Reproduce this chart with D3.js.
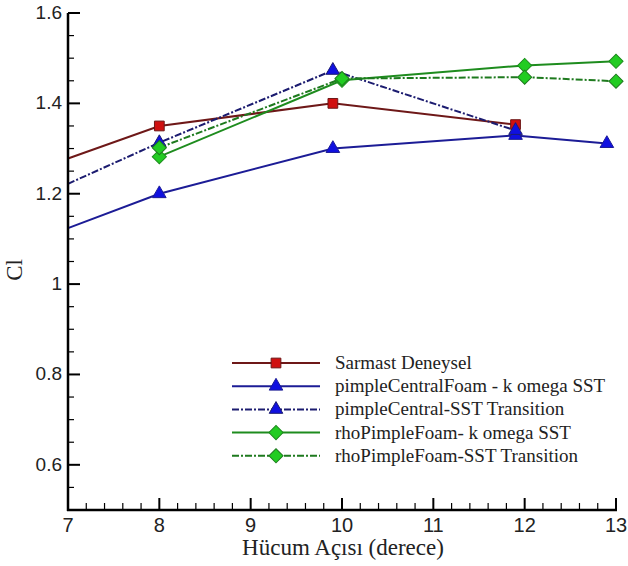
<!DOCTYPE html>
<html>
<head>
<meta charset="utf-8">
<script src="https://cdn.jsdelivr.net/npm/d3@7"></script>
<style>
  body { margin: 0; background: #fff; }
</style>
</head>
<body>
<svg id="chart" width="628" height="566"></svg>
<script>
// Cl - hücum açısı verileri
const seriesNames = [
  "Sarmast Deneysel",
  "pimpleCentralFoam - k omega SST",
  "pimpleCentral-SST Transition",
  "rhoPimpleFoam- k omega SST",
  "rhoPimpleFoam-SST Transition"
];
const sarmastX = [7, 8, 9.9, 11.9];
const sarmastY = [1.278, 1.35, 1.40, 1.353];
const pcfX = [7, 8, 9.9, 11.9, 12.9];
const pcfY = [1.124, 1.20, 1.30, 1.329, 1.311];
const pcTransX = [7, 8, 9.9, 11.9];
const pcTransY = [1.222, 1.313, 1.473, 1.34];
const rpfX = [8, 10, 12, 13];
const rpfY = [1.282, 1.451, 1.484, 1.493];
const rpTransX = [8, 10, 12, 13];
const rpTransY = [1.302, 1.455, 1.458, 1.449];

const xTicks = [7, 8, 9, 10, 11, 12, 13];
const yTicks = [0.6, 0.8, 1, 1.2, 1.4, 1.6];

const svg = d3.select("#chart");
const x = d3.scaleLinear().domain([7, 13]).range([68, 616]);
const y = d3.scaleLinear().domain([0.5, 1.6]).range([510, 13]);

// elmas = 45 derece döndürülmüş kare
const styles = [
  { line: "#6e1818", fill: "#d01010", stroke: "#6e1818", dash: null, sym: d3.symbolSquare, size: 95, rot: 0 },
  { line: "#1c1c96", fill: "#1010e0", stroke: "#1c1c96", dash: null, sym: d3.symbolTriangle, size: 80, rot: 0 },
  { line: "#1c1c70", fill: "#1010e0", stroke: "#1c1c70", dash: "7,2,2,2", sym: d3.symbolTriangle, size: 80, rot: 0 },
  { line: "#1e8c1e", fill: "#22cc22", stroke: "#1e8c1e", dash: null, sym: d3.symbolSquare, size: 100, rot: 45 },
  { line: "#1e7a1e", fill: "#22cc22", stroke: "#1e7a1e", dash: "7,2,2,2", sym: d3.symbolSquare, size: 100, rot: 45 }
];

const allData = [
  d3.zip(sarmastX, sarmastY),
  d3.zip(pcfX, pcfY),
  d3.zip(pcTransX, pcTransY),
  d3.zip(rpfX, rpfY),
  d3.zip(rpTransX, rpTransY)
];

const line = d3.line().x(d => x(d[0])).y(d => y(d[1]));

// çizgiler
allData.forEach((data, i) => {
  const s = styles[i];
  svg.append("path")
    .attr("d", line(data))
    .attr("fill", "none")
    .attr("stroke", s.line)
    .attr("stroke-width", 2)
    .attr("stroke-dasharray", s.dash);
});

// işaretler (eksen üzerindekiler hariç)
allData.forEach((data, i) => {
  const s = styles[i];
  svg.selectAll(null)
    .data(data.filter(d => d[0] > 7))
    .enter().append("path")
    .attr("d", d3.symbol().type(s.sym).size(s.size))
    .attr("transform", d => `translate(${x(d[0])},${y(d[1])}) rotate(${s.rot})`)
    .attr("fill", s.fill)
    .attr("stroke", s.stroke)
    .attr("stroke-width", 1);
});

// eksenler
const axisG = svg.append("g").attr("stroke", "#000");
axisG.append("line").attr("x1", 68).attr("x2", 68).attr("y1", 13).attr("y2", 511).attr("stroke-width", 2.5);
axisG.append("line").attr("x1", 67).attr("x2", 617).attr("y1", 510).attr("y2", 510).attr("stroke-width", 2.5);

// y çentikleri
d3.range(0.55, 1.601, 0.05).forEach(v => {
  const major = Math.abs(v * 5 - Math.round(v * 5)) < 1e-6;
  axisG.append("line")
    .attr("x1", 68).attr("x2", 68 + (major ? 12 : 6))
    .attr("y1", y(v)).attr("y2", y(v))
    .attr("stroke-width", major ? 2 : 1.2);
});
// x çentikleri
d3.range(7.2, 13.001, 0.2).forEach(v => {
  const major = Math.abs(v - Math.round(v)) < 1e-6;
  axisG.append("line")
    .attr("x1", x(v)).attr("x2", x(v))
    .attr("y1", 510).attr("y2", 510 - (major ? 12 : 7))
    .attr("stroke-width", major ? 2 : 1.2);
});

svg.selectAll(".ylab")
  .data(yTicks)
  .enter().append("text")
  .attr("x", 62).attr("y", d => y(d) + 6)
  .attr("text-anchor", "end")
  .attr("font-family", "Liberation Sans, Arial, sans-serif")
  .attr("font-size", 19)
  .attr("fill", "#222")
  .text(d => d3.format("")(d));

svg.selectAll(".xlab")
  .data(xTicks)
  .enter().append("text")
  .attr("x", d => x(d)).attr("y", 532)
  .attr("text-anchor", "middle")
  .attr("font-family", "Liberation Sans, Arial, sans-serif")
  .attr("font-size", 20)
  .attr("fill", "#222")
  .text(d => d);

svg.append("text")
  .attr("x", 343).attr("y", 555)
  .attr("text-anchor", "middle")
  .attr("font-family", "Liberation Serif, Times New Roman, serif")
  .attr("font-size", 23)
  .attr("fill", "#222")
  .text("Hücum Açısı (derece)");

svg.append("text")
  .attr("transform", "translate(22,270) rotate(-90)")
  .attr("text-anchor", "middle")
  .attr("font-family", "Liberation Serif, Times New Roman, serif")
  .attr("font-size", 23)
  .attr("fill", "#222")
  .text("Cl");

// lejant
const legend = svg.append("g");
seriesNames.forEach((name, i) => {
  const s = styles[i];
  const ly = 363 + i * 23.2;
  legend.append("line")
    .attr("x1", 232).attr("x2", 320).attr("y1", ly).attr("y2", ly)
    .attr("stroke", s.line).attr("stroke-width", 2)
    .attr("stroke-dasharray", s.dash);
  legend.append("path")
    .attr("d", d3.symbol().type(s.sym).size(s.size))
    .attr("transform", `translate(276,${ly}) rotate(${s.rot})`)
    .attr("fill", s.fill).attr("stroke", s.stroke);
  legend.append("text")
    .attr("x", 335).attr("y", ly + 6)
    .attr("font-family", "Liberation Serif, Times New Roman, serif")
    .attr("font-size", 19)
    .attr("fill", "#222")
    .text(name);
});
</script>
</body>
</html>
